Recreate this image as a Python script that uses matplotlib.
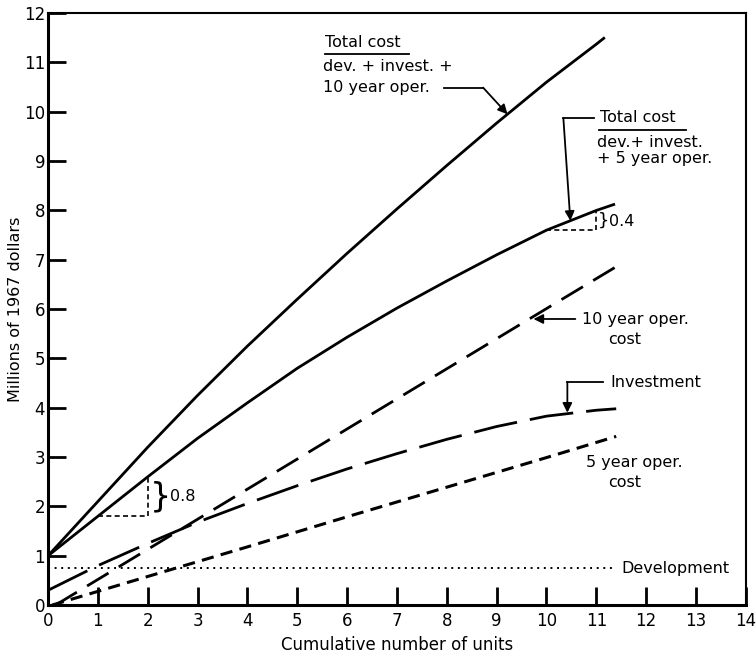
import matplotlib
matplotlib.use("Agg")
import matplotlib.pyplot as plt

# Cost curves, millions of 1967 dollars vs cumulative number of units
x_total10 = [0, 1, 2, 3, 4, 5, 6, 7, 8, 9, 10, 11, 11.15]
y_total10 = [1.0, 2.1, 3.2, 4.25, 5.25, 6.2, 7.13, 8.03, 8.91, 9.77, 10.6, 11.37, 11.49]

x_total5 = [0, 1, 2, 3, 4, 5, 6, 7, 8, 9, 10, 11, 11.35]
y_total5 = [1.0, 1.8, 2.6, 3.38, 4.1, 4.8, 5.43, 6.02, 6.57, 7.1, 7.6, 8.0, 8.12]

x_oper10 = [0.15, 2, 4, 6, 8, 10, 11.4]
y_oper10 = [0.0, 1.13, 2.35, 3.57, 4.79, 6.01, 6.86]

x_invest = [0, 1, 2, 3, 4, 5, 6, 7, 8, 9, 10, 11, 11.4]
y_invest = [0.3, 0.8, 1.25, 1.68, 2.06, 2.42, 2.76, 3.07, 3.36, 3.62, 3.83, 3.95, 3.98]

x_oper5 = [0.08, 2, 4, 6, 8, 10, 11.4]
y_oper5 = [0.0, 0.58, 1.18, 1.79, 2.39, 2.99, 3.42]

x_dev = [0, 11.4]
y_dev = [0.75, 0.75]

fig = plt.figure(figsize=(7.56, 6.57), dpi=100)
ax = fig.add_axes([0.0635, 0.079, 0.923, 0.901])

ax.plot(x_total10, y_total10, color="k", lw=2)
ax.plot(x_total5, y_total5, color="k", lw=2)
ax.plot(x_oper10, y_oper10, color="k", lw=2, linestyle=(0, (9, 4.3)))
ax.plot(x_invest, y_invest, color="k", lw=2, linestyle=(0, (15.8, 4.7)))
ax.plot(x_oper5, y_oper5, color="k", lw=2.2, linestyle=(0, (4, 2.4)))
ax.plot(x_dev, y_dev, color="k", lw=1.4, linestyle=(0, (1, 2.4)))

ax.set_xlim(0, 14)
ax.set_ylim(0, 12)
ax.set_xticks(range(0, 15))
ax.set_yticks(range(0, 13))
ax.tick_params(direction="in", length=13, width=2, labelsize=12, pad=5)
ax.tick_params(axis="y", pad=2)
for side in ["left", "bottom"]:
    ax.spines[side].set_linewidth(2.2)
for side in ["top", "right"]:
    ax.spines[side].set_linewidth(1.5)

ax.set_xlabel("Cumulative number of units", fontsize=12, labelpad=4)
ax.set_ylabel("Millions of 1967 dollars", fontsize=11.5, labelpad=1)

txt = dict(fontsize=11.5, va="center", ha="left")
arrow = dict(arrowstyle="-|>", color="k", lw=1.3, mutation_scale=14,
             shrinkA=0, shrinkB=0)

# total cost, 10 year operation
ax.text(5.56, 11.4, "Total cost", **txt)
ax.plot([5.56, 7.25], [11.17, 11.17], color="k", lw=1.3)
ax.text(5.52, 10.92, "dev. + invest. +", **txt)
ax.text(5.52, 10.5, "10 year oper.", **txt)
ax.plot([7.95, 8.73], [10.49, 10.49], color="k", lw=1.3)
ax.annotate("", xy=(9.22, 9.95), xytext=(8.73, 10.49), arrowprops=arrow)

# total cost, 5 year operation
ax.text(11.08, 9.88, "Total cost", **txt)
ax.plot([11.06, 12.8], [9.63, 9.63], color="k", lw=1.3)
ax.text(11.02, 9.37, "dev.+ invest.", **txt)
ax.text(11.02, 9.05, "+ 5 year oper.", **txt)
ax.plot([10.34, 10.95], [9.87, 9.87], color="k", lw=1.3)
ax.annotate("", xy=(10.48, 7.79), xytext=(10.34, 9.87), arrowprops=arrow)

# 0.4 increment bracket
ax.plot([10, 11, 11], [7.6, 7.6, 8.0], color="k", lw=1.2, linestyle=(0, (3, 2)))
ax.text(11.03, 7.8, "}", fontsize=13, va="center", ha="left")
ax.text(11.25, 7.78, "0.4", **txt)

# 0.8 increment bracket
ax.plot([1, 2, 2], [1.8, 1.8, 2.6], color="k", lw=1.2, linestyle=(0, (3, 2)))
ax.text(2.05, 2.2, "}", fontsize=24, va="center", ha="left")
ax.text(2.45, 2.2, "0.8", **txt)

# operation cost labels
ax.text(10.72, 5.78, "10 year oper.", **txt)
ax.text(11.24, 5.38, "cost", **txt)
ax.annotate("", xy=(9.74, 5.8), xytext=(10.58, 5.8), arrowprops=arrow)

ax.text(11.29, 4.52, "Investment", **txt)
ax.plot([10.42, 11.14], [4.52, 4.52], color="k", lw=1.3)
ax.annotate("", xy=(10.42, 3.9), xytext=(10.42, 4.52), arrowprops=arrow)

ax.text(10.8, 2.9, "5 year oper.", **txt)
ax.text(11.24, 2.49, "cost", **txt)

ax.text(11.5, 0.75, "Development", **txt)

fig.savefig("out.png", dpi=100)
